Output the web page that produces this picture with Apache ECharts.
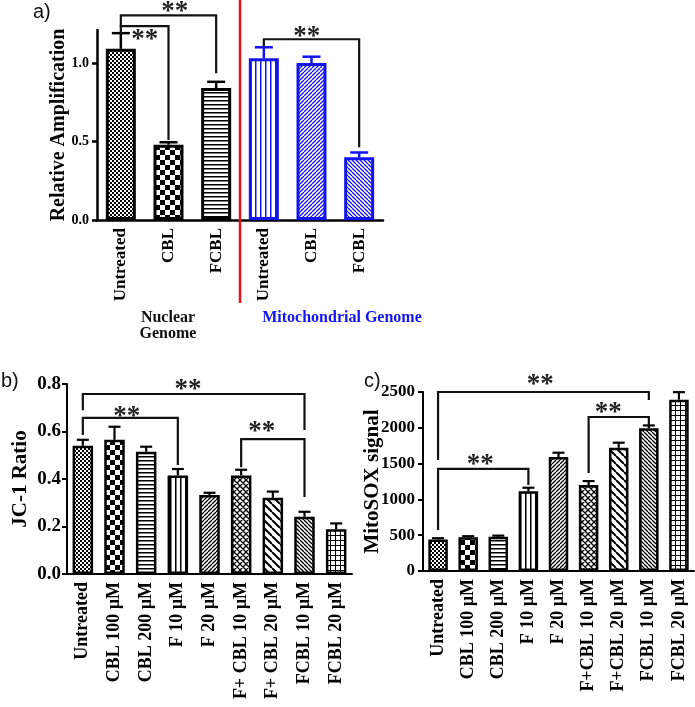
<!DOCTYPE html>
<html><head><meta charset="utf-8">
<script src="https://cdn.jsdelivr.net/npm/echarts@6/dist/echarts.min.js"></script>
<style>html,body{margin:0;padding:0;background:#fff}#c{width:695px;height:707px}</style>
</head><body><div id="c"></div>
<script>
// ---------- DATA ----------
const catsA = ['Untreated','CBL','FCBL','Untreated','CBL','FCBL'];
const valsA = [1.09, 0.48, 0.84, 1.03, 1.00, 0.40];
const semA  = [0.10, 0.015, 0.04, 0.07, 0.04, 0.03];
const ticksA = [0, 0.5, 1.0];

const catsB = ['Untreated','CBL 100 µM','CBL 200 µM','F 10 µM','F 20 µM','F+ CBL 10 µM','F+ CBL 20 µM','FCBL 10 µM','FCBL 20 µM'];
const valsB = [0.54, 0.565, 0.515, 0.415, 0.333, 0.415, 0.321, 0.241, 0.188];
const semB  = [0.025, 0.055, 0.021, 0.027, 0.009, 0.024, 0.026, 0.021, 0.025];

const catsC = ['Untreated','CBL 100 µM','CBL 200 µM','F 10 µM','F 20 µM','F+CBL 10 µM','F+CBL 20 µM','FCBL 10 µM','FCBL 20 µM'];
const valsC = [440, 472, 478, 1113, 1592, 1201, 1722, 1993, 2393];
const semC  = [18, 14, 16, 50, 60, 55, 70, 40, 105];

// significance brackets: [fromCat, toCat, topValue, leftEndValue, rightEndValue]
const bracketsA = [[0, 2, 1.303, 1.227, 0.935], [0, 1, 1.235, 1.19, 0.509], [3, 5, 1.151, 1.103, 0.464]];
const starsA = [[1.13, 1.354], [0.5, 1.176], [3.9, 1.195]];
const bracketsB = [[0, 7, 0.758, 0.69, 0.606], [0, 3, 0.657, 0.585, 0.459], [5, 7, 0.568, 0.45, 0.324]];
const starsB = [[3.32, 0.796], [1.39, 0.682], [5.65, 0.619]];
const bracketsC = [[0, 7, 2500, 1550, 2388], [5, 7, 2151, 1369, 2039], [0, 3, 1425, 573, 1201]];
const starsC = [[3.39, 2668], [5.65, 2277], [1.4, 1550]];
const dividerA = [[2.5, 0]]; // between nuclear and mitochondrial groups

// ---------- STYLE ----------
const BLUE = '#1414f0', RED = '#e8121a', BLACK = '#000';
const SERIF = '"Liberation Serif","Times New Roman",serif';

function pat(type, color){
  const size = {fine:4, checker:10, hlines:4, vlines:5, diagR:4, diagL:4, diagLwide:8, cross:6, grid:5}[type];
  const c = document.createElement('canvas'); c.width = size; c.height = size;
  const g = c.getContext('2d');
  g.fillStyle = '#fff'; g.fillRect(0,0,size,size);
  g.fillStyle = color; g.strokeStyle = color;
  if (type === 'fine'){ g.fillRect(0,0,2,2); g.fillRect(2,2,2,2); }
  else if (type === 'checker'){ g.fillRect(0,0,5,5); g.fillRect(5,5,5,5); }
  else if (type === 'hlines'){ g.fillRect(0,0,size,1.5); }
  else if (type === 'vlines'){ g.fillRect(0,0,1.5,size); }
  else if (type === 'grid'){ g.fillRect(0,0,size,1); g.fillRect(0,0,1,size); }
  else {
    g.lineWidth = type === 'diagLwide' ? 2 : 1.3;
    const dr = (type === 'diagR' || type === 'cross');
    const dl = (type === 'diagL' || type === 'diagLwide' || type === 'cross');
    g.beginPath();
    for (let k = -1; k <= 1; k++){
      if (dr){ g.moveTo(k*size, size); g.lineTo(k*size+size, 0); }
      if (dl){ g.moveTo(k*size, 0); g.lineTo(k*size+size, size); }
    }
    g.stroke();
  }
  return {image: c, repeat: 'repeat'};
}

const patsA = [['fine',BLACK],['checker',BLACK],['hlines',BLACK],['vlines',BLUE],['diagR',BLUE],['diagL',BLUE]];
const colsA = [BLACK,BLACK,BLACK,BLUE,BLUE,BLUE];
const patsBC = ['fine','checker','hlines','vlines','diagR','cross','diagLwide','diagL','grid'];

// coordinate for fractional category positions (linear between category centres)
function coordF(api, x, y){
  const f = Math.floor(x), c = Math.ceil(x);
  const a = api.coord([f, y]);
  if (f === c) return a;
  const b = api.coord([c, y]);
  const t = x - f;
  return [a[0] + (b[0]-a[0])*t, a[1] + (b[1]-a[1])*t];
}
function errRender(capW, lw, cols){
  return function(params, api){
    const x = api.value(0), v = api.value(1), e = api.value(2);
    const p0 = api.coord([x, v]), p1 = api.coord([x, v + e]);
    const col = cols ? cols[params.dataIndex] : BLACK;
    return {type:'group', children:[
      {type:'line', shape:{x1:p0[0], y1:p0[1], x2:p1[0], y2:p1[1]}, style:{stroke:col, lineWidth:lw}},
      {type:'line', shape:{x1:p1[0]-capW/2, y1:p1[1], x2:p1[0]+capW/2, y2:p1[1]}, style:{stroke:col, lineWidth:lw}}
    ]};
  };
}
function bracketRender(params, api){
  const a = api.value(0), b = api.value(1), t = api.value(2), l = api.value(3), r = api.value(4);
  const pts = [api.coord([a,l]), api.coord([a,t]), api.coord([b,t]), api.coord([b,r])];
  return {type:'polyline', shape:{points:pts}, style:{stroke:'#111', lineWidth:2.2, fill:null}};
}
function starRender(params, api){
  const p = coordF(api, api.value(0), api.value(1));
  return {type:'text', x:p[0], y:p[1] + 5, style:{text:'**', font:'bold 27px ' + SERIF, fill:'#222', textAlign:'center', textVerticalAlign:'middle'}};
}

function xAx(gi, cats, fs, lw){
  return {type:'category', gridIndex:gi, data:cats,
    axisLine:{lineStyle:{color:BLACK, width:lw}},
    axisTick:{alignWithLabel:true, length:5, lineStyle:{width:lw, color:BLACK}},
    axisLabel:{rotate:90, interval:0, margin:8, color:BLACK, fontFamily:SERIF, fontWeight:'bold', fontSize:fs}};
}

const option = {
  animation:false,
  backgroundColor:'#fff',
  grid:[
    {left:97, top:30, width:286, height:190},
    {left:67, top:384, width:285, height:190},
    {left:423, top:392, width:271, height:179}
  ],
  xAxis:[ xAx(0, catsA, 17, 2.5), xAx(1, catsB, 18, 2), xAx(2, catsC, 18, 2) ],
  yAxis:[
    {type:'value', gridIndex:0, min:0, max:1.21, splitLine:{show:false},
     name:'Relative Amplification', nameLocation:'middle', nameRotate:90, nameGap:28, nameMoveOverlap:false,
     nameTextStyle:{fontFamily:SERIF, fontWeight:'bold', fontSize:20, color:BLACK},
     axisLine:{show:true, lineStyle:{color:BLACK, width:2.5}},
     axisTick:{show:true, length:5, customValues:ticksA, lineStyle:{width:2.5, color:BLACK}},
     axisLabel:{customValues:ticksA, margin:8, formatter:v => v.toFixed(1), color:BLACK, fontFamily:SERIF, fontWeight:'bold', fontSize:14}},
    {type:'value', gridIndex:1, min:0, max:0.8, interval:0.2, splitLine:{show:false},
     name:'JC-1 Ratio', nameLocation:'middle', nameRotate:90, nameGap:36, nameMoveOverlap:false,
     nameTextStyle:{fontFamily:SERIF, fontWeight:'bold', fontSize:21, color:BLACK},
     axisLine:{show:true, lineStyle:{color:BLACK, width:2}},
     axisTick:{show:true, length:5, lineStyle:{width:2, color:BLACK}},
     axisLabel:{margin:6, formatter:v => v.toFixed(1), color:BLACK, fontFamily:SERIF, fontWeight:'bold', fontSize:19}},
    {type:'value', gridIndex:2, min:0, max:2500, interval:500, splitLine:{show:false},
     name:'MitoSOX signal', nameLocation:'middle', nameRotate:90, nameGap:40, nameMoveOverlap:false,
     nameTextStyle:{fontFamily:SERIF, fontWeight:'bold', fontSize:21, color:BLACK},
     axisLine:{show:true, lineStyle:{color:BLACK, width:2}},
     axisTick:{show:true, length:5, lineStyle:{width:2, color:BLACK}},
     axisLabel:{margin:8, formatter:v => String(v), color:BLACK, fontFamily:SERIF, fontWeight:'bold', fontSize:17}}
  ],
  series:[
    {type:'bar', xAxisIndex:0, yAxisIndex:0, barWidth:30, silent:true,
     data: valsA.map((v,i) => ({value:v, itemStyle:{color:pat(patsA[i][0], patsA[i][1]), borderColor:colsA[i], borderWidth:3}}))},
    {type:'custom', xAxisIndex:0, yAxisIndex:0, silent:true, z:3, renderItem:errRender(18, 2.5, colsA),
     data: valsA.map((v,i) => [i, v, semA[i]])},
    {type:'custom', xAxisIndex:0, yAxisIndex:0, silent:true, z:3, renderItem:bracketRender, data:bracketsA},
    {type:'custom', xAxisIndex:0, yAxisIndex:0, silent:true, z:4, renderItem:starRender, data:starsA},
    {type:'custom', xAxisIndex:0, yAxisIndex:0, silent:true, z:5, data:dividerA,
     renderItem:function(params, api){
       const p = coordF(api, api.value(0), api.value(1));
       return {type:'line', shape:{x1:p[0], y1:0, x2:p[0], y2:p[1] + 83}, style:{stroke:RED, lineWidth:2.5}};
     }},

    {type:'bar', xAxisIndex:1, yAxisIndex:1, barWidth:20.5, silent:true,
     data: valsB.map((v,i) => ({value:v, itemStyle:{color:pat(patsBC[i], BLACK), borderColor:BLACK, borderWidth:2.5}}))},
    {type:'custom', xAxisIndex:1, yAxisIndex:1, silent:true, z:3, renderItem:errRender(12, 2.2), data: valsB.map((v,i) => [i, v, semB[i]])},
    {type:'custom', xAxisIndex:1, yAxisIndex:1, silent:true, z:3, renderItem:bracketRender, data:bracketsB},
    {type:'custom', xAxisIndex:1, yAxisIndex:1, silent:true, z:4, renderItem:starRender, data:starsB},

    {type:'bar', xAxisIndex:2, yAxisIndex:2, barWidth:19.5, silent:true,
     data: valsC.map((v,i) => ({value:v, itemStyle:{color:pat(patsBC[i], BLACK), borderColor:BLACK, borderWidth:2.5}}))},
    {type:'custom', xAxisIndex:2, yAxisIndex:2, silent:true, z:3, renderItem:errRender(12, 2.2), data: valsC.map((v,i) => [i, v, semC[i]])},
    {type:'custom', xAxisIndex:2, yAxisIndex:2, silent:true, z:3, renderItem:bracketRender, data:bracketsC},
    {type:'custom', xAxisIndex:2, yAxisIndex:2, silent:true, z:4, renderItem:starRender, data:starsC}
  ],
  graphic:[
    {type:'text', left:33, top:2, style:{text:'a)', font:'20px "Liberation Sans",Arial,sans-serif', fill:'#111'}},
    {type:'text', left:1, top:371, style:{text:'b)', font:'20px "Liberation Sans",Arial,sans-serif', fill:'#111'}},
    {type:'text', left:364, top:371, style:{text:'c)', font:'20px "Liberation Sans",Arial,sans-serif', fill:'#111'}},
    {type:'text', x:168, y:310, style:{text:'Nuclear\nGenome', font:'bold 16px ' + SERIF, fill:'#111', textAlign:'center', lineHeight:16}},
    {type:'text', x:342, y:310, style:{text:'Mitochondrial Genome', font:'bold 16px ' + SERIF, fill:BLUE, textAlign:'center'}}
  ]
};
const chart = echarts.init(document.getElementById('c'), null, {renderer:'canvas'});
chart.setOption(option);
</script>
</body></html>
